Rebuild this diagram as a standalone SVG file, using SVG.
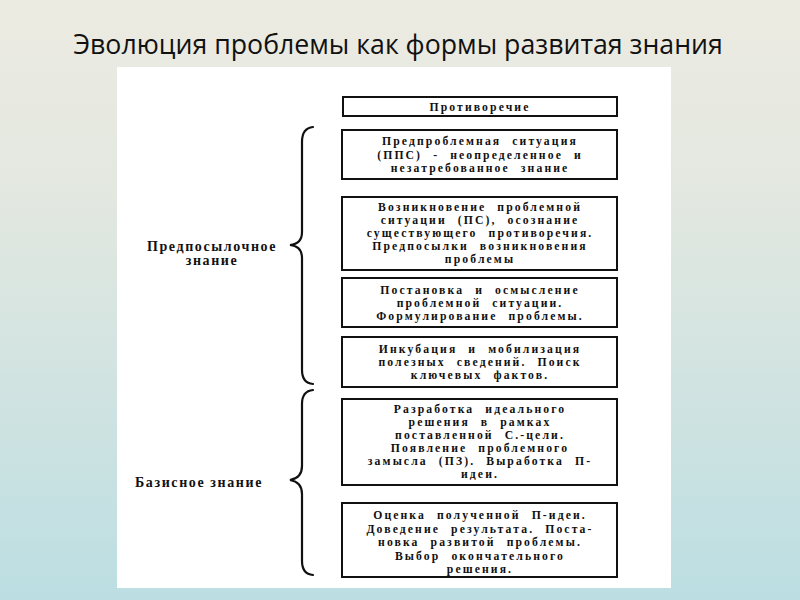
<svg xmlns="http://www.w3.org/2000/svg" width="800" height="600" viewBox="0 0 800 600">
  <defs>
    <linearGradient id="bg" x1="0" y1="0" x2="0" y2="1">
      <stop offset="0" stop-color="#ecebe2"/>
      <stop offset="0.3" stop-color="#e4e8e0"/>
      <stop offset="1" stop-color="#bcdee2"/>
    </linearGradient>
  </defs>
  <style>
    .box { fill: #ffffff; stroke: #111111; stroke-width: 2; }
    .t { font-family: "Liberation Serif", "DejaVu Serif", serif; font-weight: bold; font-size: 11.7px; fill: #111111; text-anchor: middle; letter-spacing: 2.1px; word-spacing: 6px; }
    .lbl { font-family: "Liberation Serif", "DejaVu Serif", serif; font-weight: bold; font-size: 14px; fill: #111111; letter-spacing: 1.6px; }
    .brace { fill: none; stroke: #111111; stroke-width: 2.2; stroke-linecap: round; }
    .title { font-family: "Open Sans", "Noto Sans", "Liberation Sans", sans-serif; font-size: 26.7px; fill: #111111; text-anchor: middle; }
  </style>
  <rect x="0" y="0" width="800" height="600" fill="url(#bg)"/>
  <text class="title" x="398" y="54">Эволюция проблемы как формы развитая знания</text>
  <rect x="117" y="67" width="554" height="521" fill="#ffffff"/>

  <g id="connectors">
    <path class="brace" d="M313,127 Q302,128 302,142 L302,232 Q302,244 290,245 Q302,246 302,258 L302,370 Q302,383 313,384"/>
    <path class="brace" d="M313,390 Q302,391 302,404 L302,466 Q302,478 290,480 Q302,482 302,494 L302,561 Q302,574 313,575"/>
  </g>

  <g id="label-predposyl">
    <text class="lbl" x="212" y="251" text-anchor="middle">Предпосылочное</text>
    <text class="lbl" x="212" y="265" text-anchor="middle">знание</text>
  </g>
  <g id="label-bazis">
    <text class="lbl" x="135" y="487">Базисное знание</text>
  </g>

  <g id="n1">
    <rect class="box" x="343" y="97" width="274" height="19"/>
    <text class="t" x="480" y="110.5">Противоречие</text>
  </g>
  <g id="n2">
    <rect class="box" x="342" y="130" width="275" height="49"/>
    <text class="t" x="480" y="145">Предпроблемная ситуация</text>
    <text class="t" x="480" y="158.5">(ППС) - неопределенное и</text>
    <text class="t" x="480" y="172">незатребованное знание</text>
  </g>
  <g id="n3">
    <rect class="box" x="342" y="197" width="275" height="73"/>
    <text class="t" x="480" y="210.5">Возникновение проблемной</text>
    <text class="t" x="480" y="223.5">ситуации (ПС), осознание</text>
    <text class="t" x="480" y="236.5">существующего противоречия.</text>
    <text class="t" x="480" y="249.5">Предпосылки возникновения</text>
    <text class="t" x="480" y="262.5">проблемы</text>
  </g>
  <g id="n4">
    <rect class="box" x="342" y="278" width="275" height="49"/>
    <text class="t" x="480" y="294">Постановка и осмысление</text>
    <text class="t" x="480" y="307">проблемной ситуации.</text>
    <text class="t" x="480" y="320">Формулирование проблемы.</text>
  </g>
  <g id="n5">
    <rect class="box" x="342" y="337" width="275" height="50"/>
    <text class="t" x="480" y="352.5">Инкубация и мобилизация</text>
    <text class="t" x="480" y="365.5">полезных сведений. Поиск</text>
    <text class="t" x="480" y="378.5">ключевых фактов.</text>
  </g>
  <g id="n6">
    <rect class="box" x="342" y="399" width="275" height="86"/>
    <text class="t" x="480" y="412.5">Разработка идеального</text>
    <text class="t" x="480" y="425.5">решения в рамках</text>
    <text class="t" x="480" y="438.5">поставленной С.-цели.</text>
    <text class="t" x="480" y="451.5">Появление проблемного</text>
    <text class="t" x="480" y="464.5">замысла (ПЗ). Выработка П-</text>
    <text class="t" x="480" y="477.5">идеи.</text>
  </g>
  <g id="n7">
    <rect class="box" x="342" y="503" width="275" height="74"/>
    <text class="t" x="480" y="519">Оценка полученной П-идеи.</text>
    <text class="t" x="480" y="532.5">Доведение результата. Поста-</text>
    <text class="t" x="480" y="546">новка развитой проблемы.</text>
    <text class="t" x="480" y="559.5">Выбор окончательного</text>
    <text class="t" x="480" y="573">решения.</text>
  </g>
</svg>
